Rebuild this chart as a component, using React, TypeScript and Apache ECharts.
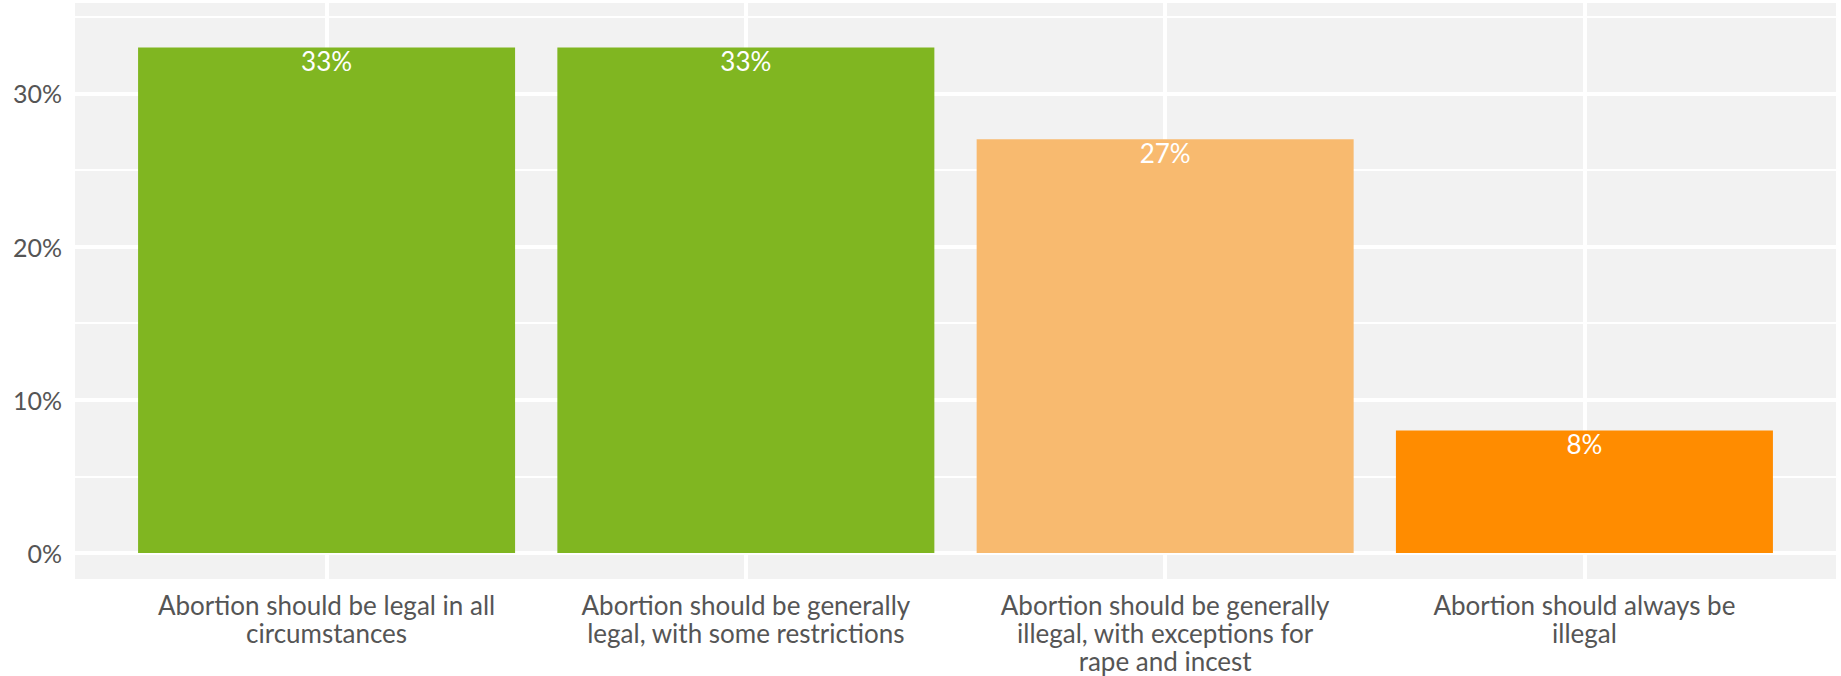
import React, { useEffect, useRef } from "react";
import * as echarts from "echarts";

const categories = [
  "Abortion should be legal in all\ncircumstances",
  "Abortion should be generally\nlegal, with some restrictions",
  "Abortion should be generally\nillegal, with exceptions for\nrape and incest",
  "Abortion should always be\nillegal",
];
const values = [33, 33, 27, 8];
const barColors = ["#80B621", "#80B621", "#F8BA6F", "#FF8C00"];
const yMajor = [0, 10, 20, 30];
const yMinor = [5, 15, 25, 35];
const xPositions = [1, 2, 3, 4];

export default function App() {
  const ref = useRef<HTMLDivElement>(null);
  useEffect(() => {
    document.body.style.margin = "0";
    const chart = echarts.init(ref.current!, null, { renderer: "svg" });
    const font = "Lato";
    const gridLines: any[] = [
      ...yMajor.map((v) => ({ yAxis: v, lineStyle: { color: "#fff", width: 4, type: "solid" } })),
      ...yMinor.map((v) => ({ yAxis: v, lineStyle: { color: "#fff", width: 2, type: "solid" } })),
      ...xPositions.map((v) => ({ xAxis: v, lineStyle: { color: "#fff", width: 4, type: "solid" } })),
    ];
    chart.setOption({
      animation: false,
      grid: {
        left: 75,
        right: 5,
        top: 3,
        bottom: 97,
        show: true,
        backgroundColor: "#F2F2F2",
        borderWidth: 0,
      },
      xAxis: {
        type: "value",
        min: 0.4,
        max: 4.6,
        axisLine: { show: false },
        axisTick: { show: false },
        splitLine: { show: false },
        axisLabel: {
          customValues: xPositions,
          formatter: (v: number) => categories[Math.round(v) - 1] ?? "",
          color: "#555",
          fontFamily: font,
          fontSize: 26,
          lineHeight: 28,
          margin: 12,
          align: "center",
          verticalAlign: "top",
        },
      },
      yAxis: {
        type: "value",
        min: -1.7,
        max: 35.9,
        axisLine: { show: false },
        axisTick: { show: false },
        splitLine: { show: false },
        axisLabel: {
          customValues: yMajor,
          formatter: (v: number) => `${v}%`,
          color: "#555",
          fontFamily: font,
          fontSize: 25,
          margin: 13,
        },
      },
      series: [
        {
          type: "line",
          data: [],
          z: 1,
          silent: true,
          markLine: {
            silent: true,
            z: 1,
            symbol: ["none", "none"],
            label: { show: false },
            emphasis: { disabled: true },
            data: gridLines,
          },
        },
        {
          type: "bar",
          z: 3,
          barWidth: 377,
          data: values.map((v, i) => ({
            value: [xPositions[i], v],
            itemStyle: { color: barColors[i] },
          })),
          label: {
            show: true,
            position: "insideTop",
            distance: 1,
            color: "#fff",
            fontFamily: font,
            fontSize: 26,
            formatter: (p: any) => `${p.value[1]}%`,
          },
        },
      ],
    });
    return () => chart.dispose();
  }, []);
  return <div ref={ref} style={{ width: 1841, height: 676 }} />;
}
